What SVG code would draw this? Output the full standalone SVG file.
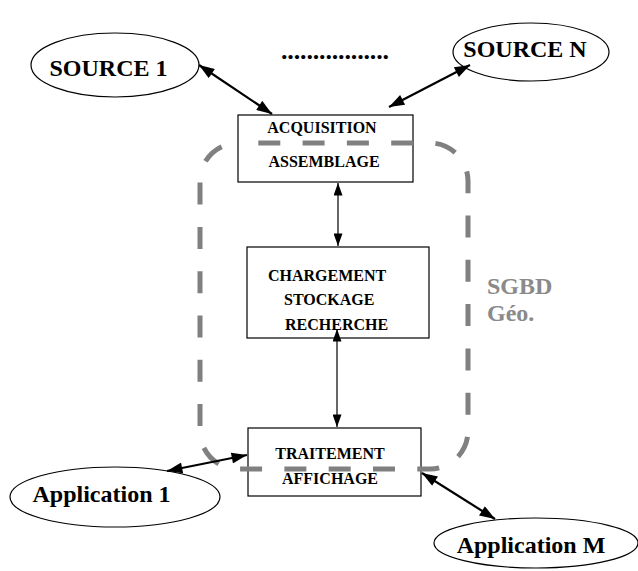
<svg xmlns="http://www.w3.org/2000/svg" width="638" height="571" viewBox="0 0 638 571">
<style>
  svg text, text { font-family: "Liberation Serif", serif !important; font-weight: bold; }
  .big { font-size: 24px; }
  .small { font-size: 16px; }
  .ell { fill: #fff; stroke: #000; stroke-width: 1.2; }
  .box { fill: #fff; stroke: #000; stroke-width: 1.2; }
  .thick { stroke: #000; stroke-width: 2.2; fill: none; }
  .thin { stroke: #000; stroke-width: 1.2; fill: none; }
</style>
<defs>
  <marker id="bigHead" viewBox="0 0 14 10" refX="14" refY="5" markerWidth="16" markerHeight="11" markerUnits="userSpaceOnUse" orient="auto-start-reverse">
    <path d="M0,0 L14,5 L0,10 Z" fill="#000"/>
  </marker>
  <marker id="smallHead" viewBox="0 0 14 10" refX="14" refY="5" markerWidth="13" markerHeight="9" markerUnits="userSpaceOnUse" orient="auto-start-reverse">
    <path d="M0,0 L14,5 L0,10 Z" fill="#000"/>
  </marker>
</defs>

<g id="source1">
  <ellipse class="ell" cx="115" cy="65" rx="84" ry="32"/>
  <text class="big" font-family="Liberation Serif" style="font-family:'Liberation Serif',serif" x="108.5" y="76" text-anchor="middle">SOURCE 1</text>
</g>
<g id="sourceN">
  <ellipse class="ell" cx="531" cy="52" rx="78" ry="29"/>
  <text class="big" font-family="Liberation Serif" style="font-family:'Liberation Serif',serif" x="525" y="57" text-anchor="middle">SOURCE N</text>
</g>
<g id="dots">
  <text font-family="Liberation Serif" style="font-family:'Liberation Serif',serif;font-size:26px" x="281" y="59" textLength="108" lengthAdjust="spacing">.................</text>
</g>
<g id="acquisition">
  <rect class="box" x="238" y="115" width="175" height="67"/>
  <text class="small" font-family="Liberation Serif" style="font-family:'Liberation Serif',serif" x="322" y="133" text-anchor="middle">ACQUISITION</text>
  <text class="small" font-family="Liberation Serif" style="font-family:'Liberation Serif',serif" x="324" y="167" text-anchor="middle">ASSEMBLAGE</text>
</g>
<g id="chargement">
  <rect class="box" x="247" y="247" width="182" height="91"/>
  <text class="small" font-family="Liberation Serif" style="font-family:'Liberation Serif',serif" x="268" y="281">CHARGEMENT</text>
  <text class="small" font-family="Liberation Serif" style="font-family:'Liberation Serif',serif" x="284" y="305">STOCKAGE</text>
  <text class="small" font-family="Liberation Serif" style="font-family:'Liberation Serif',serif" x="285" y="330">RECHERCHE</text>
</g>
<g id="traitement">
  <rect class="box" x="248" y="428" width="173" height="68"/>
  <text class="small" font-family="Liberation Serif" style="font-family:'Liberation Serif',serif" x="330" y="459" text-anchor="middle">TRAITEMENT</text>
  <text class="small" font-family="Liberation Serif" style="font-family:'Liberation Serif',serif" x="330" y="484" text-anchor="middle">AFFICHAGE</text>
</g>
<g id="application1">
  <ellipse class="ell" cx="115" cy="497" rx="105" ry="30"/>
  <text class="big" font-family="Liberation Serif" style="font-family:'Liberation Serif',serif" x="101.5" y="502" text-anchor="middle">Application 1</text>
</g>
<g id="applicationM">
  <ellipse class="ell" cx="536" cy="543" rx="102" ry="25"/>
  <text class="big" font-family="Liberation Serif" style="font-family:'Liberation Serif',serif" x="531" y="553" text-anchor="middle">Application M</text>
</g>

<g id="sgbd">
  <rect x="200" y="143" width="268" height="326" rx="38" ry="38" fill="none" stroke="#808080" stroke-width="5" stroke-dasharray="22 22.3" stroke-dashoffset="24"/>
  <text class="big" font-family="Liberation Serif" style="font-family:'Liberation Serif',serif;fill:#8a8a8a" x="487" y="294">SGBD</text>
  <text class="big" font-family="Liberation Serif" style="font-family:'Liberation Serif',serif;fill:#8a8a8a" x="487" y="321">Géo.</text>
</g>

<g id="connectors">
  <line class="thick" x1="199" y1="65" x2="272" y2="114" marker-start="url(#bigHead)" marker-end="url(#bigHead)"/>
  <line class="thick" x1="470" y1="65" x2="389" y2="107" marker-start="url(#bigHead)" marker-end="url(#bigHead)"/>
  <line class="thin" x1="338" y1="183" x2="338" y2="246" marker-start="url(#smallHead)" marker-end="url(#smallHead)"/>
  <line class="thin" x1="337" y1="329" x2="337" y2="427" marker-start="url(#smallHead)" marker-end="url(#smallHead)"/>
  <line class="thick" x1="167" y1="471" x2="247" y2="455" marker-start="url(#bigHead)" marker-end="url(#bigHead)"/>
  <line class="thick" x1="422" y1="473" x2="495" y2="519" marker-start="url(#bigHead)" marker-end="url(#bigHead)"/>
</g>
</svg>
